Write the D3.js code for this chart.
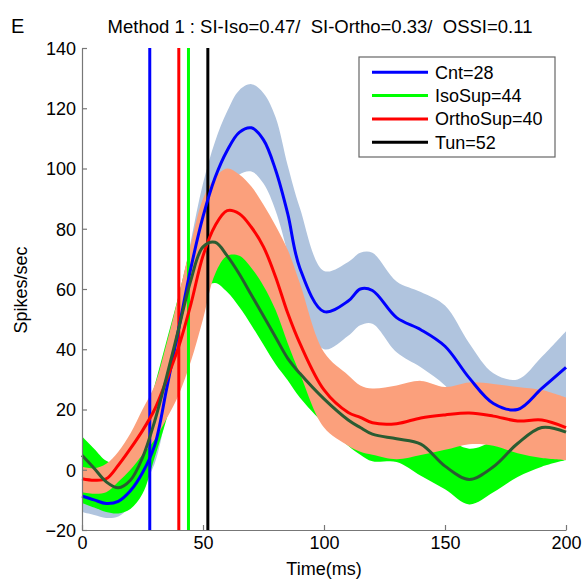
<!DOCTYPE html>
<html>
<head>
<meta charset="utf-8">
<script src="https://cdn.jsdelivr.net/npm/d3@7"></script>
<style>
  body { margin: 0; background: white; }
  text { font-family: "Liberation Sans", Arial, sans-serif; }
</style>
</head>
<body>
<script>
// time axis (ms) and the three conditions: mean with its band (upper / lower)
var time = [0,5,10,15,20,25,30,35,40,45,50,55,60,65,70,75,80,85,90,100,110,115,120,130,140,150,160,170,180,190,200];

var cntMean  = [-8.7,-10,-11.2,-10.5,-7,-1,8,27,47,67,84,97,106,112,113.5,109.5,99.5,85,67,52.5,56,60,59.5,50.5,46.5,41,30.5,22,20,27,34];
var cntUpper = [-4,-5,-6,-5.5,-2,4,14,34,55,76,95,109,119,126,128,125,117,101,87,66,69,72,72,62.5,59,54.5,42,32,30,37.5,46];
var cntLower = [-14,-15,-16,-15.5,-12,-6,2,19,39,58,73,85,93,98,99,95,86,72,56,40,44.5,48,48.5,39,34,28,19,12,10,16,22];

var isoMean  = [4.8,0.5,-4,-6,-3.5,4,16,31,47,63,74,75.5,71,65,58,51,44,37,32,23.5,16.5,14,11.8,10.3,8.5,1.2,-3.2,1,8.7,14,12.5];
var isoUpper = [11,7,3,2,5,14,28,43,58,74,86,88,84,77,71,64,56,49,43,33,26,23.5,21,19,17,11,7,10,18,23,21.5];
var isoLower = [-11,-12.5,-14,-14.5,-13,-8,4,17,33,48,60,62,59,54,48,41.5,35,29.7,24,15.3,8,5,2.8,2.6,-2,-6.5,-11.5,-7.5,-2.4,1,3.2];

var orthoMean  = [-3,-3.5,-3,1.5,7,13,20,30,41,55,71,81,86,85,80.5,74,64,52,42,26.5,19,17.4,15.6,15.3,17.2,18.2,18.8,17.8,16.2,16.5,14];
var orthoUpper = [1,0.5,2,6,12,20,28,42,58,75,90,97,100,98,94,88,81,73,62,39,31.4,28,27,28,29.5,27.5,29,28.5,27.5,26.5,24];
var orthoLower = [-7.5,-8,-7.5,-4,0,5,10,17,25,36,50,65,71,71,67,61,53,42,32,14,8,6,5,3.5,4.9,6.6,8.5,8,5.5,3.9,3.2];

// response latencies drawn as vertical lines
var latNames  = ["Cnt", "IsoSup", "OrthoSup", "Tun"];
var latValues = [28, 44, 40, 52];
var latColors = ["#0000ff", "#00ff00", "#ff0000", "#000000"];

var yTicks = [-20, 0, 20, 40, 60, 80, 100, 120, 140];
var xTicks = [0, 50, 100, 150, 200];

var width = 583, height = 582;

var svg = d3.select("body").append("svg")
  .attr("width", width)
  .attr("height", height);

var x = d3.scaleLinear().domain([0, 200]).range([82, 566]);
var y = d3.scaleLinear().domain([-20, 140]).range([530, 48]);

function band(up, lo) {
  return d3.area()
    .x(function(d, i) { return x(time[i]); })
    .y0(function(d, i) { return y(lo[i]); })
    .y1(function(d, i) { return y(up[i]); })
    .curve(d3.curveCatmullRom.alpha(0.5))(time);
}

function meanLine(m) {
  return d3.line()
    .x(function(d, i) { return x(time[i]); })
    .y(function(d, i) { return y(m[i]); })
    .curve(d3.curveCatmullRom.alpha(0.5))(time);
}

// bands: steel blue under, then green, salmon on top
svg.append("path").attr("d", band(cntUpper, cntLower)).attr("fill", "#b0c4de");
svg.append("path").attr("d", band(isoUpper, isoLower)).attr("fill", "#00ff00");
svg.append("path").attr("d", band(orthoUpper, orthoLower)).attr("fill", "#fba07c");

// latency lines
svg.append("g").selectAll("line")
  .data(latValues)
  .enter().append("line")
    .attr("x1", function(d) { return x(d); })
    .attr("x2", function(d) { return x(d); })
    .attr("y1", y(140))
    .attr("y2", y(-20))
    .attr("stroke", function(d, i) { return latColors[i]; })
    .attr("stroke-width", 3);

// means
svg.append("path").attr("d", meanLine(cntMean)).attr("fill", "none").attr("stroke", "#0000ff").attr("stroke-width", 3);
svg.append("path").attr("d", meanLine(orthoMean)).attr("fill", "none").attr("stroke", "#ff0000").attr("stroke-width", 3);
svg.append("path").attr("d", meanLine(isoMean)).attr("fill", "none").attr("stroke", "#2a5c32").attr("stroke-width", 3);

// axes, ticks pointing inward like matlab
var yAxis = d3.axisLeft(y).tickValues(yTicks).tickSizeInner(-5).tickSizeOuter(0).tickPadding(6);
var xAxis = d3.axisBottom(x).tickValues(xTicks).tickSizeInner(-5).tickSizeOuter(0).tickPadding(5);

var gy = svg.append("g").attr("transform", "translate(82,0)").call(yAxis);
var gx = svg.append("g").attr("transform", "translate(0,530)").call(xAxis);

[gy, gx].forEach(function(g) {
  g.select(".domain").attr("stroke", "#777").attr("stroke-width", 1.2);
  g.selectAll(".tick line").attr("stroke", "#777").attr("stroke-width", 1.2);
  g.selectAll(".tick text")
    .attr("fill", "#000")
    .style("font-family", "'Liberation Sans', Arial, sans-serif")
    .style("font-size", "18px");
});
gy.selectAll(".tick text").attr("dy", "0.35em");
gx.selectAll(".tick text").attr("dy", "0.8em");

// legend
var lg = svg.append("g");
lg.append("rect")
  .attr("x", 359).attr("y", 57)
  .attr("width", 196).attr("height", 100)
  .attr("fill", "white")
  .attr("stroke", "#666")
  .attr("stroke-width", 1.2);

var rows = lg.selectAll("g.row")
  .data(latNames)
  .enter().append("g")
    .attr("class", "row")
    .attr("transform", function(d, i) { return "translate(0," + (72.3 + i * 23.3) + ")"; });

rows.append("line")
  .attr("x1", 372).attr("x2", 428)
  .attr("stroke", function(d, i) { return latColors[i]; })
  .attr("stroke-width", 3);

rows.append("text")
  .attr("x", 435)
  .attr("dy", "0.35em")
  .style("font-size", "18px")
  .text(function(d, i) { return d + "=" + latValues[i]; });

// titles and labels
svg.append("text")
  .attr("x", 11).attr("y", 33)
  .style("font-size", "20px")
  .text("E");

svg.append("text")
  .attr("x", 320).attr("y", 33)
  .attr("text-anchor", "middle")
  .style("font-size", "18.5px")
  .style("white-space", "pre")
  .text("Method 1 : SI-Iso=0.47/  SI-Ortho=0.33/  OSSI=0.11");

svg.append("text")
  .attr("transform", "translate(27,290) rotate(-90)")
  .attr("text-anchor", "middle")
  .style("font-size", "18px")
  .text("Spikes/sec");

svg.append("text")
  .attr("x", 324).attr("y", 575)
  .attr("text-anchor", "middle")
  .style("font-size", "18px")
  .text("Time(ms)");
</script>
</body>
</html>
